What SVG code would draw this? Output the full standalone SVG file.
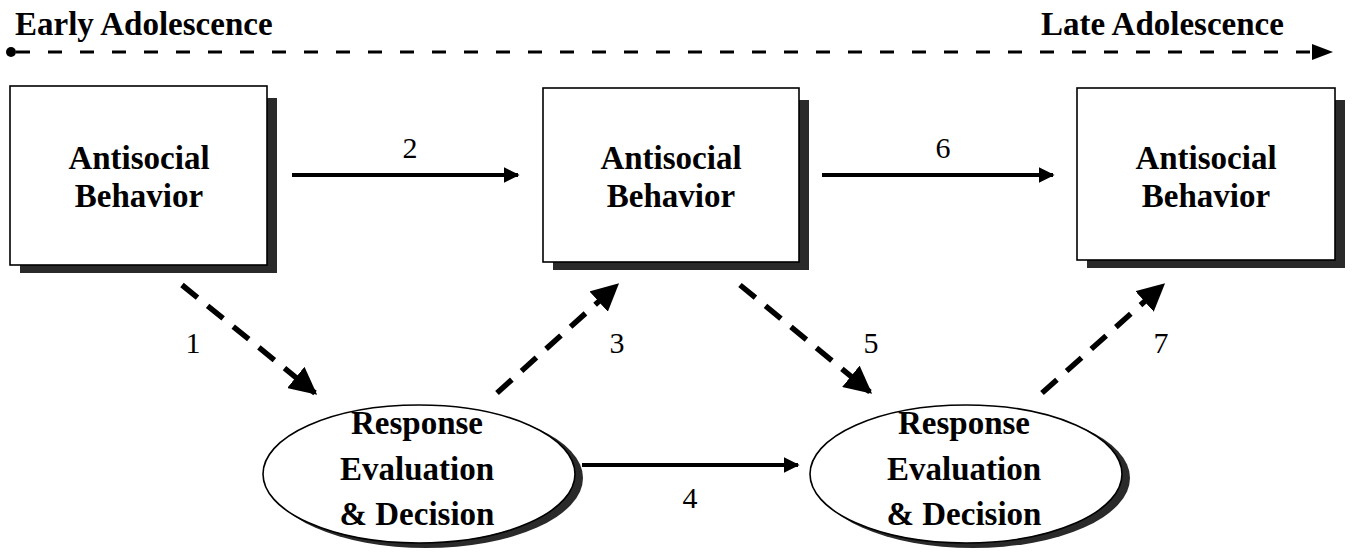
<svg xmlns="http://www.w3.org/2000/svg" width="1355" height="552" viewBox="0 0 1355 552">
<style>
.lbl{font-family:"Liberation Serif","Times New Roman",serif;font-weight:bold;font-size:33px;fill:#000;text-anchor:middle}
.hdr{font-family:"Liberation Serif","Times New Roman",serif;font-weight:bold;font-size:33px;fill:#000}
.num{font-family:"Liberation Serif","Times New Roman",serif;font-size:30px;fill:#000;text-anchor:middle}
.box{fill:#fff;stroke:#000;stroke-width:1.6}
.shd{fill:#2a2a2a}
.solid{stroke:#000;stroke-width:4;fill:none}
.dash{stroke:#000;stroke-width:5.5;fill:none;stroke-dasharray:20 13}
.time{stroke:#000;stroke-width:3;fill:none;stroke-dasharray:14 18}
</style>
<defs>
<marker id="ah" viewBox="0 0 10 10" refX="9" refY="5" markerWidth="5" markerHeight="5" markerUnits="strokeWidth" orient="auto">
<path d="M0,0 L10,5 L0,10 z" fill="#000"/>
</marker>
<marker id="ahs" viewBox="0 0 10 10" refX="9" refY="5" markerWidth="4" markerHeight="4" markerUnits="strokeWidth" orient="auto">
<path d="M0,0 L10,5 L0,10 z" fill="#000"/>
</marker>
</defs>

<g id="timeline">
<text class="hdr" x="15" y="35">Early Adolescence</text>
<text class="hdr" x="1041" y="35">Late Adolescence</text>
<circle cx="11" cy="52" r="5" fill="#000"/>
<line class="time" x1="16" y1="52" x2="1312" y2="52"/>
<polygon points="1312,44 1333,52 1312,60" fill="#000"/>
</g>

<g id="connectors">
<line class="solid" x1="292" y1="175" x2="518" y2="175" marker-end="url(#ahs)"/>
<line class="solid" x1="822" y1="175" x2="1053" y2="175" marker-end="url(#ahs)"/>
<line class="solid" x1="582" y1="465" x2="798" y2="465" marker-end="url(#ahs)"/>
<line class="dash" x1="182" y1="285" x2="315" y2="393" marker-end="url(#ah)"/>
<line class="dash" x1="497" y1="393" x2="617" y2="285" marker-end="url(#ah)"/>
<line class="dash" x1="740" y1="285" x2="870" y2="392" marker-end="url(#ah)"/>
<line class="dash" x1="1042" y1="393" x2="1163" y2="285" marker-end="url(#ah)"/>
<text class="num" x="410" y="158">2</text>
<text class="num" x="943" y="158">6</text>
<text class="num" x="690" y="508">4</text>
<text class="num" x="193" y="353">1</text>
<text class="num" x="617" y="353">3</text>
<text class="num" x="871" y="353">5</text>
<text class="num" x="1161" y="353">7</text>
</g>

<g id="asb1">
<rect class="shd" x="20" y="98" width="257" height="175"/>
<rect class="box" x="10" y="86" width="257" height="179"/>
<text class="lbl" x="139" y="169">Antisocial</text>
<text class="lbl" x="139" y="207">Behavior</text>
</g>

<g id="asb2">
<rect class="shd" x="553" y="100" width="256" height="170"/>
<rect class="box" x="543" y="88" width="256" height="174"/>
<text class="lbl" x="671" y="169">Antisocial</text>
<text class="lbl" x="671" y="207">Behavior</text>
</g>

<g id="asb3">
<rect class="shd" x="1087" y="100" width="258" height="168"/>
<rect class="box" x="1077" y="88" width="258" height="172"/>
<text class="lbl" x="1206" y="169">Antisocial</text>
<text class="lbl" x="1206" y="207">Behavior</text>
</g>

<g id="red1">
<ellipse class="shd" cx="426" cy="478" rx="157" ry="70"/>
<ellipse class="box" cx="419" cy="474" rx="156" ry="69"/>
<text class="lbl" x="417" y="434">Response</text>
<text class="lbl" x="417" y="480">Evaluation</text>
<text class="lbl" x="417" y="525">&amp; Decision</text>
</g>

<g id="red2">
<ellipse class="shd" cx="973" cy="478" rx="157" ry="70"/>
<ellipse class="box" cx="966" cy="474" rx="156" ry="69"/>
<text class="lbl" x="964" y="434">Response</text>
<text class="lbl" x="964" y="480">Evaluation</text>
<text class="lbl" x="964" y="525">&amp; Decision</text>
</g>
</svg>
